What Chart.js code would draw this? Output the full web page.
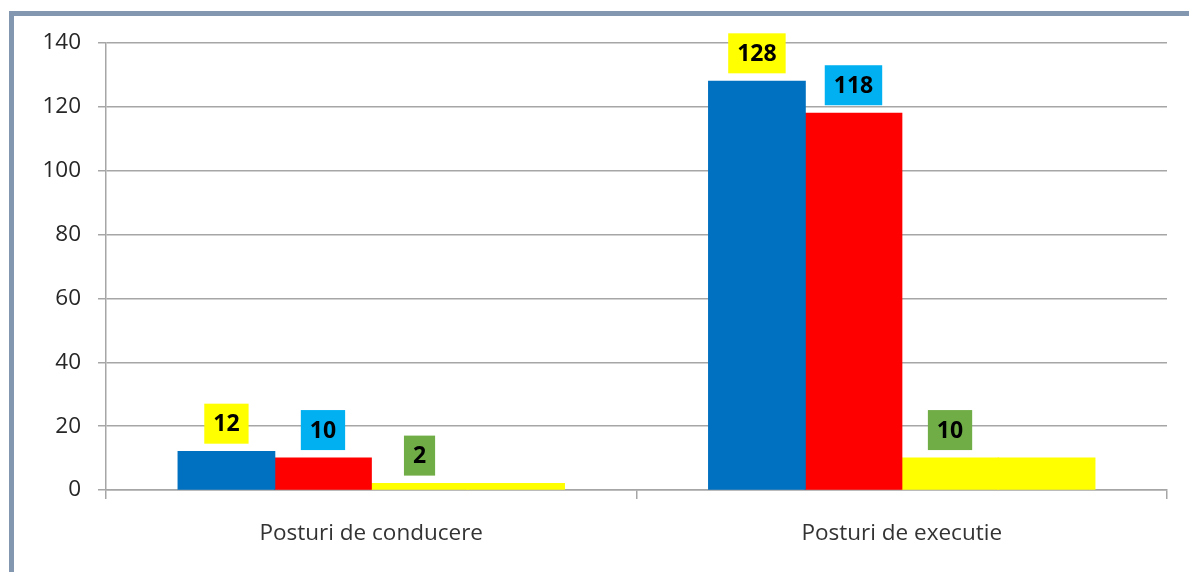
<!DOCTYPE html>
<html>
<head>
<meta charset="utf-8">
<script src="https://cdn.jsdelivr.net/npm/chart.js@4/dist/chart.umd.min.js"></script>
<style>
  html, body { margin: 0; padding: 0; background: #fff; }
  #wrap { position: relative; width: 1189px; height: 572px; overflow: hidden; }
  #c { position: absolute; left: 0; top: 0; }
  #frame { position: absolute; left: 9px; top: 11px; right: -10px; bottom: -10px;
           border-left: 5px solid #8497b0; border-top: 5px solid #8497b0; pointer-events: none; }
</style>
</head>
<body>
<div id="wrap">
  <canvas id="c" width="1189" height="572"></canvas>
  <div id="frame"></div>
</div>
<script>
const categories = ['Posturi de conducere', 'Posturi de executie'];
const blueValues = [12, 128];
const redValues = [10, 118];
const yellowValues = [2, 10];
const yellowExtraValues = [2, 10];
const yTickMin = 0, yTickMax = 140, yTickStep = 20;

const labelBoxColors = ['#FFFF00', '#00B0F0', '#70AD47'];

const boxLabels = {
  id: 'boxLabels',
  afterDatasetsDraw(chart) {
    const ctx = chart.ctx;
    ctx.save();
    ctx.font = 'bold 23px "Open Sans"';
    ctx.textAlign = 'center';
    ctx.textBaseline = 'middle';
    [0, 1, 2].forEach(di => {
      const meta = chart.getDatasetMeta(di);
      meta.data.forEach((bar, i) => {
        const txt = String(chart.data.datasets[di].data[i]);
        const w = ctx.measureText(txt).width + 18;
        const h = 40;
        const bottom = bar.y - 8;
        ctx.fillStyle = labelBoxColors[di];
        ctx.fillRect(bar.x - w / 2, bottom - h, w, h);
        ctx.fillStyle = '#000';
        ctx.fillText(txt, bar.x, bottom - h / 2 + 1);
      });
    });
    ctx.restore();
  }
};

new Chart(document.getElementById('c'), {
  type: 'bar',
  data: {
    labels: categories,
    datasets: [
      { data: blueValues, backgroundColor: '#0070C0' },
      { data: redValues, backgroundColor: '#FF0000' },
      { data: yellowValues, backgroundColor: '#FFFF00' },
      { data: yellowExtraValues, backgroundColor: '#FFFF00' }
    ]
  },
  options: {
    responsive: false,
    animation: false,
    events: [],
    layout: { padding: { left: 0, top: 43, right: 22, bottom: 0 } },
    datasets: { bar: { categoryPercentage: 0.728, barPercentage: 1.0, borderWidth: 0, inflateAmount: 0.6 } },
    plugins: { legend: { display: false }, tooltip: { enabled: false } },
    scales: {
      x: {
        offset: true,
        grid: { offset: true, drawOnChartArea: false, drawTicks: true, tickLength: 9, color: '#a6a6a6', lineWidth: 1.5 },
        border: { display: true, color: '#a6a6a6', width: 1.5 },
        ticks: { color: '#333', font: { family: '"Open Sans"', size: 22.5 }, padding: 21 },
        afterFit(scale) { scale.height = 572 - 490; }
      },
      y: {
        min: yTickMin, max: yTickMax,
        grid: { color: '#a6a6a6', lineWidth: 1.5, tickLength: 8 },
        border: { display: true, color: '#a6a6a6', width: 1.5 },
        ticks: { stepSize: yTickStep, color: '#262626', font: { family: '"Open Sans"', size: 22.5 }, padding: 17 },
        afterFit(scale) { scale.width = 106; }
      }
    }
  },
  plugins: [boxLabels]
});
</script>
</body>
</html>
